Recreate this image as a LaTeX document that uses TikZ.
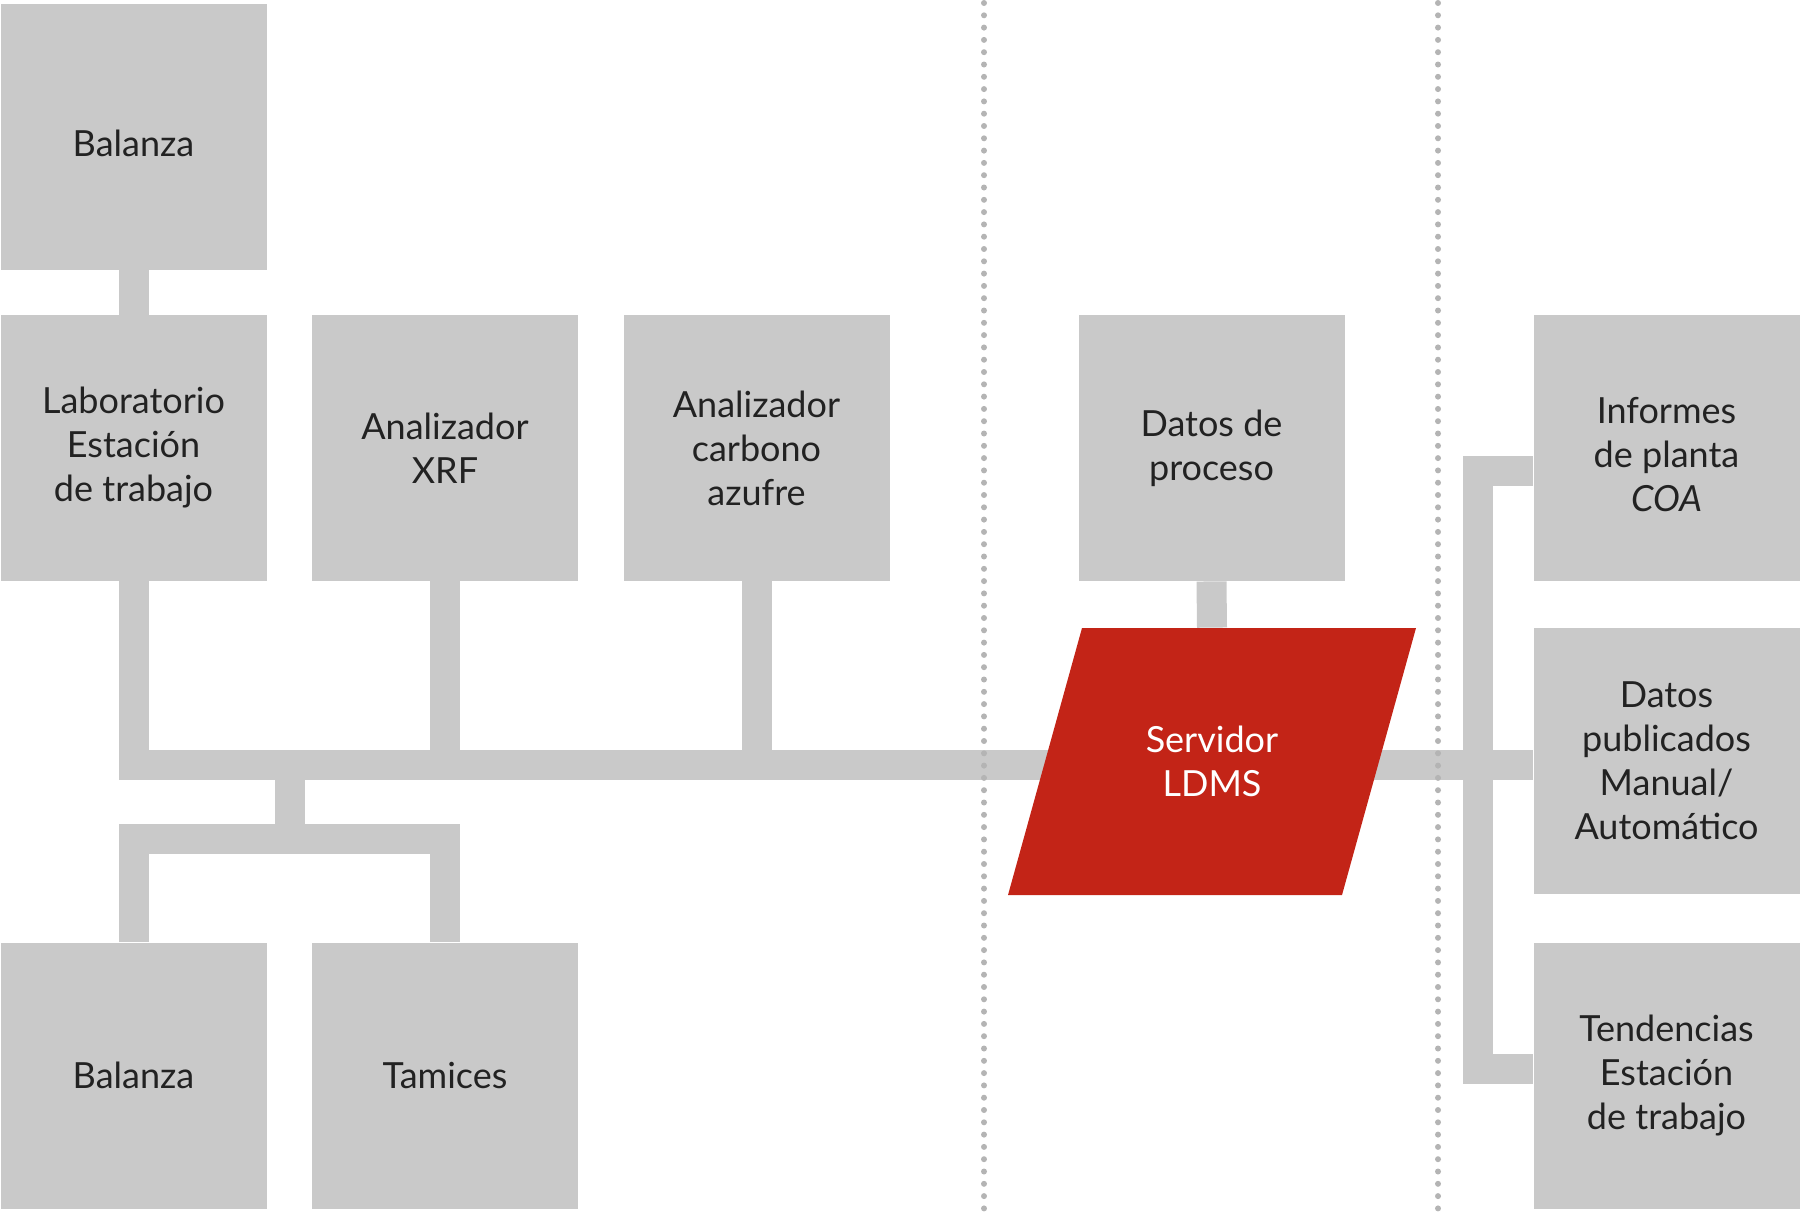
\documentclass[tikz,border=0pt]{standalone}
\usepackage{fontspec}
\setmainfont{Lato}
\definecolor{boxgray}{HTML}{C9C9C9}
\definecolor{dotgray}{HTML}{B4B4B4}
\definecolor{ldmsred}{HTML}{C32417}
\definecolor{labeltext}{HTML}{222222}

\def\sep#1{\draw[sepline] (#1,3) -- (#1,1212);}

\tikzset{
	box/.style={fill=boxgray, minimum width=133pt, minimum height=133pt, inner sep=0pt,
		align=center, text=labeltext, font=\fontsize{18}{22}\selectfont},
	boxtext/.style={align=center, text=labeltext, font=\fontsize{18}{22}\selectfont, yshift=-3.5pt},
	server/.style={minimum width=167pt, minimum height=133.5pt, inner sep=0pt,
		align=center, text=white, font=\fontsize{18}{22}\selectfont},
	link/.style={draw=boxgray, line width=15pt, line join=miter},
	sepline/.style={draw=dotgray, line width=3pt, line cap=round, dash pattern=on 0pt off 6.15pt}
}

\begin{document}
\begin{tikzpicture}[x=0.5pt, y=-0.5pt]
	\useasboundingbox (0,0) rectangle (1800,1212);

	\node[box, label={[boxtext]center:Balanza}] (bal1) at (133.5,136.5) {};
	\node[box] (lab) at (133.5,448) {Laboratorio\\Estación\\de trabajo};
	\node[box] (xrf) at (445,448) {Analizador\\XRF};
	\node[box] (cs) at (756.5,448) {Analizador\\carbono\\azufre};
	\node[box] (dp) at (1211.5,448) {Datos de\\proceso};
	\node[box, label={[boxtext]center:Informes\\de planta\\\textit{COA}}] (inf) at (1666.5,448) {};
	\node[box] (pub) at (1666.5,761) {Datos\\publicados\\Manual/\\Automático};
	\node[box] (ten) at (1666.5,1075.5) {Tendencias\\Estación\\de trabajo};
	\node[box] (bal2) at (133.5,1075.5) {Balanza};
	\node[box] (tam) at (445,1075.5) {Tamices};

	\coordinate (busR) at (1533,764.5);
	\coordinate (fork) at (289.5,838.5);
	\coordinate (rail) at (1477.5,764.5);
	\coordinate (infin) at (1533,470.5);
	\coordinate (tenin) at (1533,1068.5);

	% main bus
	\draw[link] (bal1.south) -- (lab.north);
	\draw[link] (lab.south) |- (busR);
	\draw[link] (xrf.south) -- (xrf.south |- busR);
	\draw[link] (cs.south) -- (cs.south |- busR);

	% balanza and tamices
	\draw[link] (fork |- busR) -- (fork);
	\draw[link] (bal2.north) |- (fork) -| (tam.north);

	% outputs
	\draw[link] (infin) -| (rail) |- (tenin);

	\fill[ldmsred] (1082,628) -- (1416,628) -- (1342,895) -- (1008,895) -- cycle;
	\node[server] (ldms) at (1212,761.5) {Servidor\\LDMS};
	\draw[link] (dp.south) -- (ldms.north);

	\sep{984}
	\sep{1438}
\end{tikzpicture}
\end{document}
